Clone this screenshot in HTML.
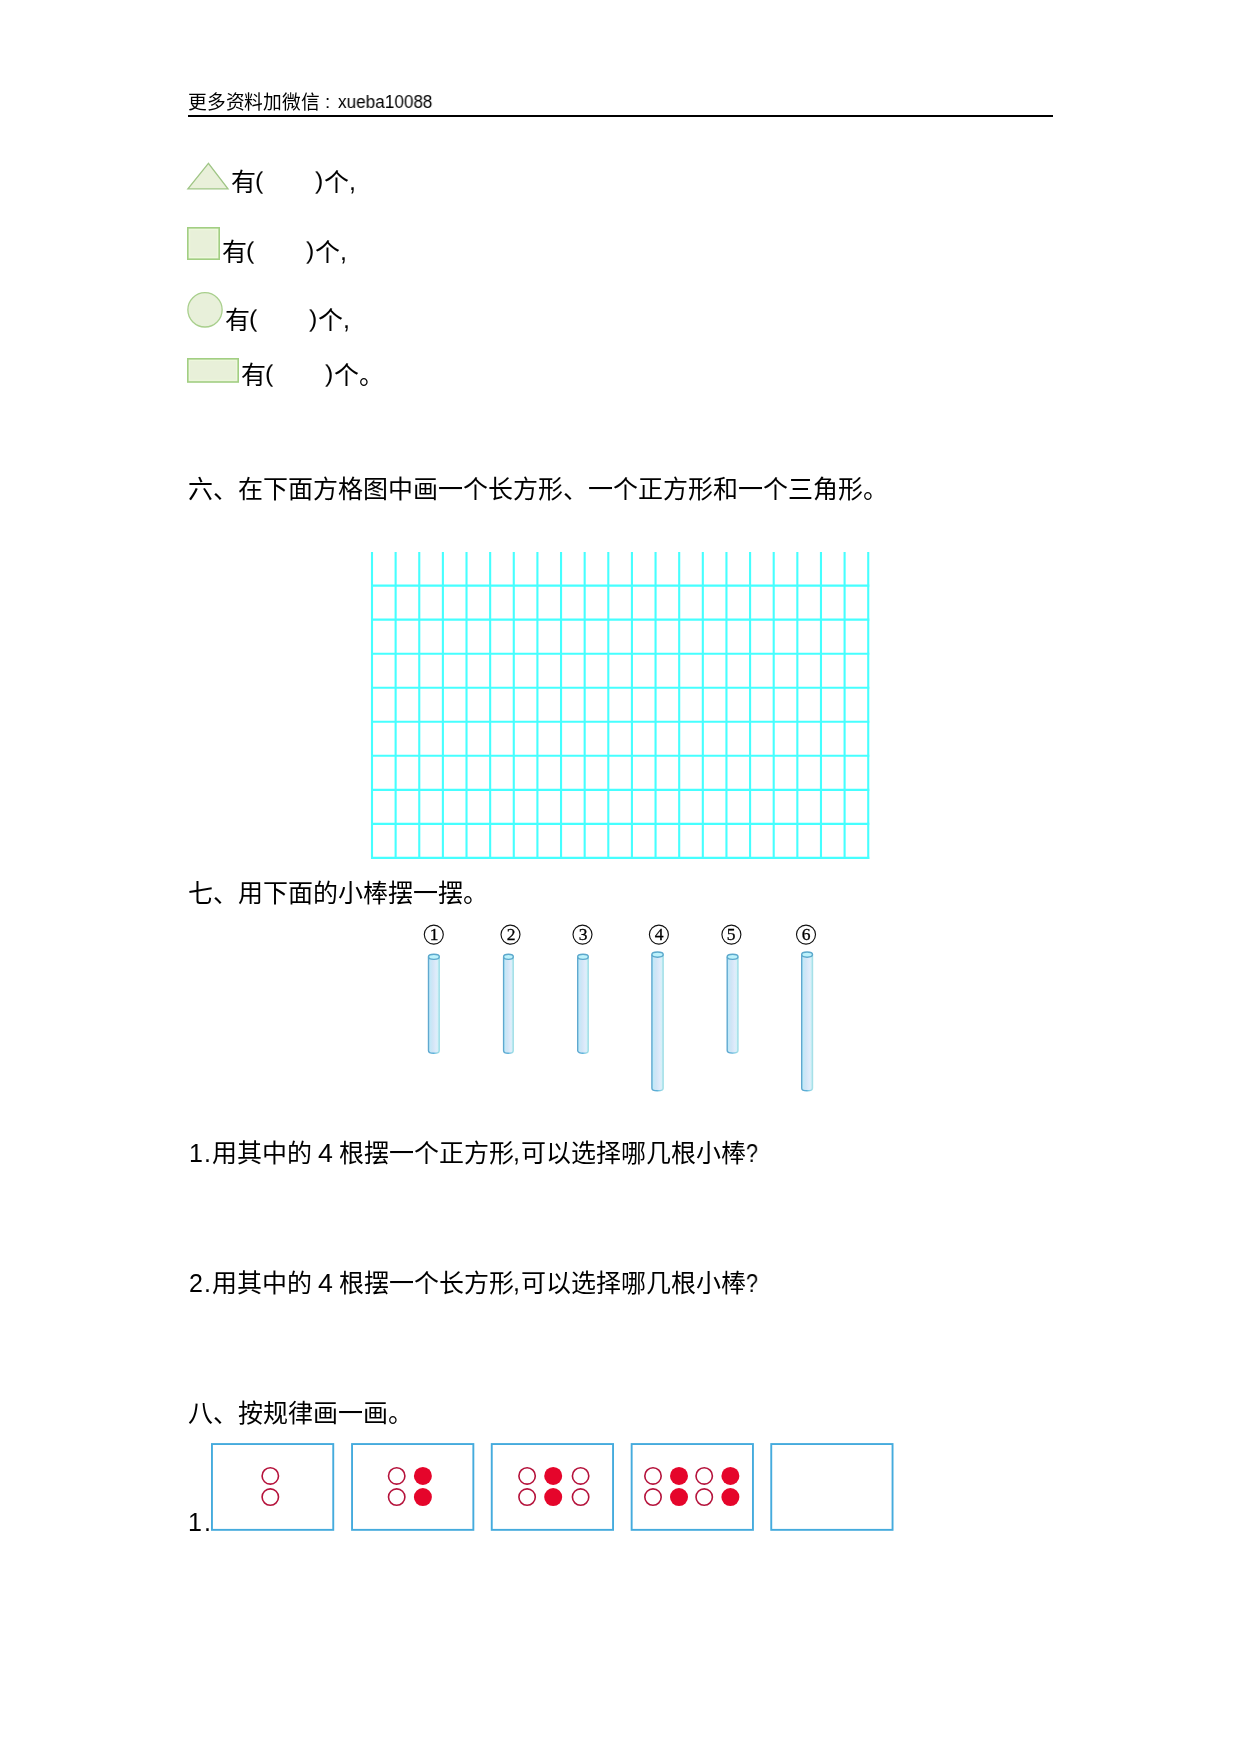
<!DOCTYPE html>
<html lang="zh-CN">
<head>
<meta charset="utf-8">
<title>worksheet</title>
<style>
html,body{margin:0;padding:0;background:#fff;}
body{width:1240px;height:1754px;position:relative;overflow:hidden;font-family:"Liberation Sans",sans-serif;color:#000;}
.l{position:absolute;white-space:pre;line-height:1;font-size:25px;font-weight:normal;margin:0;padding:0;will-change:transform;}
.l i{display:inline-block;width:1em;font-style:normal;}
.rule{position:absolute;left:188px;top:115px;width:865px;height:2px;background:#000;}
svg{position:absolute;left:0;top:0;}
.cn{position:absolute;font-family:"Liberation Serif",serif;font-size:17.5px;line-height:1;width:20px;text-align:center;will-change:transform;-webkit-text-stroke:0.3px #000;}
</style>
</head>
<body>
<div class="l" style="left:188px;top:93.5px;font-size:18.75px;"><i>更</i><i>多</i><i>资</i><i>料</i><i>加</i><i>微</i><i>信</i></div>
<b class="l" style="left:325.49px;top:93.0px;font-size:18.75px;">:</b>
<div class="l" style="left:338.2px;top:94.2px;font-size:17.5px;transform:scaleX(0.98);transform-origin:0 0;">xueba10088</div>
<div class="rule"></div>
<div class="l" style="left:230.8px;top:170px;"><i>有</i></div>
<b class="l" style="left:254.95px;top:170px;transform:translateY(-0.5px) scaleY(0.93);transform-origin:0 0;">(</b>
<b class="l" style="left:315.35px;top:170px;transform:translateY(-0.5px) scaleY(0.93);transform-origin:0 0;">)</b>
<div class="l" style="left:324.0px;top:170px;"><i>个</i></div>
<b class="l" style="left:348.86px;top:170px;transform:translateY(-1.5px);">,</b>
<div class="l" style="left:221.7px;top:240px;"><i>有</i></div>
<b class="l" style="left:245.85px;top:240px;transform:translateY(-0.5px) scaleY(0.93);transform-origin:0 0;">(</b>
<b class="l" style="left:306.25px;top:240px;transform:translateY(-0.5px) scaleY(0.93);transform-origin:0 0;">)</b>
<div class="l" style="left:314.9px;top:240px;"><i>个</i></div>
<b class="l" style="left:339.75px;top:240px;transform:translateY(-1.5px);">,</b>
<div class="l" style="left:224.8px;top:308px;"><i>有</i></div>
<b class="l" style="left:248.95px;top:308px;transform:translateY(-0.5px) scaleY(0.93);transform-origin:0 0;">(</b>
<b class="l" style="left:309.35px;top:308px;transform:translateY(-0.5px) scaleY(0.93);transform-origin:0 0;">)</b>
<div class="l" style="left:318.0px;top:308px;"><i>个</i></div>
<b class="l" style="left:342.86px;top:308px;transform:translateY(-1.5px);">,</b>
<div class="l" style="left:240.8px;top:363px;"><i>有</i></div>
<b class="l" style="left:264.95px;top:363px;transform:translateY(-0.5px) scaleY(0.93);transform-origin:0 0;">(</b>
<b class="l" style="left:325.35px;top:363px;transform:translateY(-0.5px) scaleY(0.93);transform-origin:0 0;">)</b>
<div class="l" style="left:334.0px;top:363px;"><i>个</i></div>
<div class="l" style="left:359.0px;top:363px;"><i>。</i></div>
<svg width="1240" height="1754" viewBox="0 0 1240 1754">
<polygon points="208.4,163.3 187.9,188.8 228,188.8" fill="#e9f0da" stroke="#9fc585" stroke-width="1.3" stroke-linejoin="miter"/>
<rect x="187.8" y="227.8" width="31.4" height="31.4" fill="#e8f0d9" stroke="#a2cf82" stroke-width="1.6"/>
<rect x="189.6" y="229.6" width="27.8" height="27.8" fill="none" stroke="#eef9dc" stroke-width="1"/>
<circle cx="205" cy="309.85" r="17.15" fill="#e8f0da" stroke="#a8cf8c" stroke-width="1.3"/>
<rect x="187.8" y="358.8" width="50.4" height="23.2" fill="#e8f0d9" stroke="#a2cf82" stroke-width="1.6"/>
<rect x="189.6" y="360.6" width="46.8" height="19.6" fill="none" stroke="#eef9dc" stroke-width="0.8"/>
<g stroke="#46ffff" stroke-width="2.1" fill="none"><line x1="372.00" y1="552" x2="372.00" y2="859" /><line x1="395.63" y1="552" x2="395.63" y2="859" /><line x1="419.26" y1="552" x2="419.26" y2="859" /><line x1="442.89" y1="552" x2="442.89" y2="859" /><line x1="466.52" y1="552" x2="466.52" y2="859" /><line x1="490.15" y1="552" x2="490.15" y2="859" /><line x1="513.78" y1="552" x2="513.78" y2="859" /><line x1="537.41" y1="552" x2="537.41" y2="859" /><line x1="561.04" y1="552" x2="561.04" y2="859" /><line x1="584.67" y1="552" x2="584.67" y2="859" /><line x1="608.30" y1="552" x2="608.30" y2="859" /><line x1="631.93" y1="552" x2="631.93" y2="859" /><line x1="655.56" y1="552" x2="655.56" y2="859" /><line x1="679.19" y1="552" x2="679.19" y2="859" /><line x1="702.82" y1="552" x2="702.82" y2="859" /><line x1="726.45" y1="552" x2="726.45" y2="859" /><line x1="750.08" y1="552" x2="750.08" y2="859" /><line x1="773.71" y1="552" x2="773.71" y2="859" /><line x1="797.34" y1="552" x2="797.34" y2="859" /><line x1="820.97" y1="552" x2="820.97" y2="859" /><line x1="844.60" y1="552" x2="844.60" y2="859" /><line x1="868.23" y1="552" x2="868.23" y2="859" /><line x1="371" y1="585.60" x2="869.3" y2="585.60" /><line x1="371" y1="619.64" x2="869.3" y2="619.64" /><line x1="371" y1="653.68" x2="869.3" y2="653.68" /><line x1="371" y1="687.72" x2="869.3" y2="687.72" /><line x1="371" y1="721.76" x2="869.3" y2="721.76" /><line x1="371" y1="755.80" x2="869.3" y2="755.80" /><line x1="371" y1="789.84" x2="869.3" y2="789.84" /><line x1="371" y1="823.88" x2="869.3" y2="823.88" /><line x1="371" y1="857.92" x2="869.3" y2="857.92" /></g>
<defs>
<linearGradient id="sg" x1="0" x2="1" y1="0" y2="0">
<stop offset="0" stop-color="#b4ecfc"/><stop offset="0.15" stop-color="#c4e8f8"/><stop offset="0.4" stop-color="#d1e5f6"/><stop offset="0.7" stop-color="#dfebfb"/><stop offset="0.86" stop-color="#d6f0f8"/><stop offset="1" stop-color="#b6ecf0"/>
</linearGradient>
<linearGradient id="se" x1="0" x2="1" y1="0" y2="0">
<stop offset="0" stop-color="#5fa8cf"/><stop offset="0.45" stop-color="#5aaed8"/><stop offset="0.6" stop-color="#74c4e0"/><stop offset="1" stop-color="#a6e0e8"/>
</linearGradient>
</defs>
<path d="M428.50,956.80 L428.50,1050.70 A5.40,2.6 0 0 0 439.30,1050.70 L439.30,956.80 Z" fill="url(#sg)"/><path d="M428.50,956.80 L428.50,1050.70 A5.40,2.6 0 0 0 439.30,1050.70 L439.30,956.80" fill="none" stroke="url(#se)" stroke-width="1.4"/><ellipse cx="433.90" cy="956.80" rx="5.40" ry="2.6" fill="#bdf2fc" stroke="#5ca8cc" stroke-width="1.4"/>
<path d="M503.60,956.80 L503.60,1050.70 A4.85,2.6 0 0 0 513.30,1050.70 L513.30,956.80 Z" fill="url(#sg)"/><path d="M503.60,956.80 L503.60,1050.70 A4.85,2.6 0 0 0 513.30,1050.70 L513.30,956.80" fill="none" stroke="url(#se)" stroke-width="1.4"/><ellipse cx="508.45" cy="956.80" rx="4.85" ry="2.6" fill="#bdf2fc" stroke="#5ca8cc" stroke-width="1.4"/>
<path d="M577.70,956.80 L577.70,1050.70 A5.30,2.6 0 0 0 588.30,1050.70 L588.30,956.80 Z" fill="url(#sg)"/><path d="M577.70,956.80 L577.70,1050.70 A5.30,2.6 0 0 0 588.30,1050.70 L588.30,956.80" fill="none" stroke="url(#se)" stroke-width="1.4"/><ellipse cx="583.00" cy="956.80" rx="5.30" ry="2.6" fill="#bdf2fc" stroke="#5ca8cc" stroke-width="1.4"/>
<path d="M651.90,954.60 L651.90,1088.20 A5.65,2.6 0 0 0 663.20,1088.20 L663.20,954.60 Z" fill="url(#sg)"/><path d="M651.90,954.60 L651.90,1088.20 A5.65,2.6 0 0 0 663.20,1088.20 L663.20,954.60" fill="none" stroke="url(#se)" stroke-width="1.4"/><ellipse cx="657.55" cy="954.60" rx="5.65" ry="2.6" fill="#bdf2fc" stroke="#5ca8cc" stroke-width="1.4"/>
<path d="M727.20,956.80 L727.20,1050.50 A5.40,2.6 0 0 0 738.00,1050.50 L738.00,956.80 Z" fill="url(#sg)"/><path d="M727.20,956.80 L727.20,1050.50 A5.40,2.6 0 0 0 738.00,1050.50 L738.00,956.80" fill="none" stroke="url(#se)" stroke-width="1.4"/><ellipse cx="732.60" cy="956.80" rx="5.40" ry="2.6" fill="#bdf2fc" stroke="#5ca8cc" stroke-width="1.4"/>
<path d="M801.70,954.60 L801.70,1088.20 A5.40,2.6 0 0 0 812.50,1088.20 L812.50,954.60 Z" fill="url(#sg)"/><path d="M801.70,954.60 L801.70,1088.20 A5.40,2.6 0 0 0 812.50,1088.20 L812.50,954.60" fill="none" stroke="url(#se)" stroke-width="1.4"/><ellipse cx="807.10" cy="954.60" rx="5.40" ry="2.6" fill="#bdf2fc" stroke="#5ca8cc" stroke-width="1.4"/>
<circle cx="433.8" cy="934.6" r="9.5" fill="none" stroke="#111" stroke-width="1.15"/><circle cx="510.5" cy="934.6" r="9.5" fill="none" stroke="#111" stroke-width="1.15"/><circle cx="582.5" cy="934.6" r="9.5" fill="none" stroke="#111" stroke-width="1.15"/><circle cx="658.9" cy="934.6" r="9.5" fill="none" stroke="#111" stroke-width="1.15"/><circle cx="731.4" cy="934.6" r="9.5" fill="none" stroke="#111" stroke-width="1.15"/><circle cx="806.0" cy="934.6" r="9.5" fill="none" stroke="#111" stroke-width="1.15"/>
<rect x="211.95" y="1444.05" width="121.3" height="85.8" fill="none" stroke="#45abdd" stroke-width="1.9"/><rect x="352.05" y="1444.05" width="121.3" height="85.8" fill="none" stroke="#45abdd" stroke-width="1.9"/><rect x="491.75" y="1444.05" width="121.3" height="85.8" fill="none" stroke="#45abdd" stroke-width="1.9"/><rect x="631.65" y="1444.05" width="121.3" height="85.8" fill="none" stroke="#45abdd" stroke-width="1.9"/><rect x="771.25" y="1444.05" width="121.3" height="85.8" fill="none" stroke="#45abdd" stroke-width="1.9"/>
<circle cx="270.3" cy="1475.9" r="8.2" fill="none" stroke="#b5123b" stroke-width="1.6"/><circle cx="270.3" cy="1497.1" r="8.2" fill="none" stroke="#b5123b" stroke-width="1.6"/><circle cx="396.7" cy="1475.9" r="8.2" fill="none" stroke="#b5123b" stroke-width="1.6"/><circle cx="396.7" cy="1497.1" r="8.2" fill="none" stroke="#b5123b" stroke-width="1.6"/><circle cx="422.9" cy="1475.9" r="9" fill="#e5052b"/><circle cx="422.9" cy="1497.1" r="9" fill="#e5052b"/><circle cx="527.1" cy="1475.9" r="8.2" fill="none" stroke="#b5123b" stroke-width="1.6"/><circle cx="527.1" cy="1497.1" r="8.2" fill="none" stroke="#b5123b" stroke-width="1.6"/><circle cx="553.2" cy="1475.9" r="9" fill="#e5052b"/><circle cx="553.2" cy="1497.1" r="9" fill="#e5052b"/><circle cx="580.6" cy="1475.9" r="8.2" fill="none" stroke="#b5123b" stroke-width="1.6"/><circle cx="580.6" cy="1497.1" r="8.2" fill="none" stroke="#b5123b" stroke-width="1.6"/><circle cx="653.0" cy="1475.9" r="8.2" fill="none" stroke="#b5123b" stroke-width="1.6"/><circle cx="653.0" cy="1497.1" r="8.2" fill="none" stroke="#b5123b" stroke-width="1.6"/><circle cx="679.0" cy="1475.9" r="9" fill="#e5052b"/><circle cx="679.0" cy="1497.1" r="9" fill="#e5052b"/><circle cx="704.2" cy="1475.9" r="8.2" fill="none" stroke="#b5123b" stroke-width="1.6"/><circle cx="704.2" cy="1497.1" r="8.2" fill="none" stroke="#b5123b" stroke-width="1.6"/><circle cx="730.4" cy="1475.9" r="9" fill="#e5052b"/><circle cx="730.4" cy="1497.1" r="9" fill="#e5052b"/>
</svg>
<div class="cn" style="left:423.8px;top:925.9px;">1</div>
<div class="cn" style="left:500.5px;top:925.9px;">2</div>
<div class="cn" style="left:572.5px;top:925.9px;">3</div>
<div class="cn" style="left:648.9px;top:925.9px;">4</div>
<div class="cn" style="left:721.4px;top:925.9px;">5</div>
<div class="cn" style="left:796.0px;top:925.9px;">6</div>
<div class="l" style="left:188px;top:477px;"><i>六</i><i>、</i><i>在</i><i>下</i><i>面</i><i>方</i><i>格</i><i>图</i><i>中</i><i>画</i><i>一</i><i>个</i><i>长</i><i>方</i><i>形</i><i>、</i><i>一</i><i>个</i><i>正</i><i>方</i><i>形</i><i>和</i><i>一</i><i>个</i><i>三</i><i>角</i><i>形</i><i>。</i></div>
<div class="l" style="left:188px;top:881px;"><i>七</i><i>、</i><i>用</i><i>下</i><i>面</i><i>的</i><i>小</i><i>棒</i><i>摆</i><i>一</i><i>摆</i><i>。</i></div>
<b class="l" style="left:188.59px;top:1141px;">1</b>
<b class="l" style="left:204.22px;top:1141px;">.</b>
<div class="l" style="left:212px;top:1141px;"><i>用</i><i>其</i><i>中</i><i>的</i></div>
<b class="l" style="left:317.63px;top:1141px;transform:scaleX(1.07);transform-origin:0 0;">4</b>
<div class="l" style="left:339px;top:1141px;"><i>根</i><i>摆</i><i>一</i><i>个</i><i>正</i><i>方</i><i>形</i></div>
<b class="l" style="left:512.96px;top:1141px;transform:translateY(-1.5px);">,</b>
<div class="l" style="left:520.5px;top:1141px;"><i>可</i><i>以</i><i>选</i><i>择</i><i>哪</i><i>几</i><i>根</i><i>小</i><i>棒</i></div>
<b class="l" style="left:745.58px;top:1141px;transform:scaleX(0.86);transform-origin:0 0;">?</b>
<b class="l" style="left:189.24px;top:1271px;">2</b>
<b class="l" style="left:204.22px;top:1271px;">.</b>
<div class="l" style="left:212px;top:1271px;"><i>用</i><i>其</i><i>中</i><i>的</i></div>
<b class="l" style="left:317.63px;top:1271px;transform:scaleX(1.07);transform-origin:0 0;">4</b>
<div class="l" style="left:339px;top:1271px;"><i>根</i><i>摆</i><i>一</i><i>个</i><i>长</i><i>方</i><i>形</i></div>
<b class="l" style="left:512.96px;top:1271px;transform:translateY(-1.5px);">,</b>
<div class="l" style="left:520.5px;top:1271px;"><i>可</i><i>以</i><i>选</i><i>择</i><i>哪</i><i>几</i><i>根</i><i>小</i><i>棒</i></div>
<b class="l" style="left:745.58px;top:1271px;transform:scaleX(0.86);transform-origin:0 0;">?</b>
<div class="l" style="left:188px;top:1401px;"><i>八</i><i>、</i><i>按</i><i>规</i><i>律</i><i>画</i><i>一</i><i>画</i><i>。</i></div>
<b class="l" style="left:188.29px;top:1510px;">1</b>
<b class="l" style="left:203.92px;top:1510px;">.</b>
</body>
</html>
